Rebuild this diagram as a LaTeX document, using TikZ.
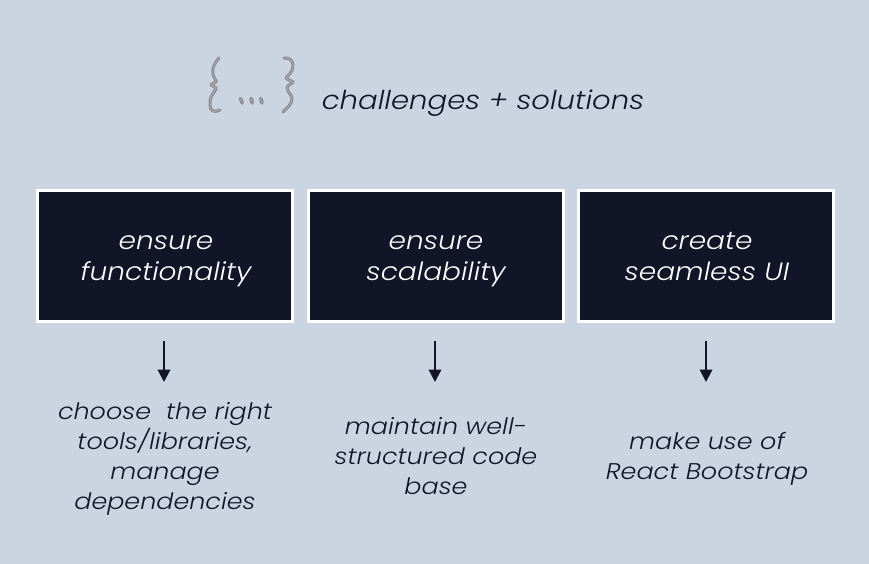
\documentclass[tikz,border=0pt]{standalone}
\usepackage{fontspec}
\setmainfont{Poppins}[UprightFont=* Light,ItalicFont=* Light Italic,FakeStretch=1.12]
\usetikzlibrary{arrows.meta}
\definecolor{bg}{HTML}{CBD5E1}
\definecolor{navy}{HTML}{111527}
\definecolor{gr}{HTML}{85858B}
\definecolor{grl}{HTML}{A8A8AE}
\newcommand{\st}{\vphantom{fy}}
\tikzset{
  x=1pt,y=-1pt,
  box/.style={draw=white,line width=3pt,fill=navy,minimum width=255pt,minimum height=131pt},
  boxtxt/.style={text=white,align=center,inner sep=0pt,font=\fontsize{25}{31}\selectfont\itshape},
  lbl/.style={text=navy,align=center,inner sep=0pt,font=\fontsize{22.7}{30}\selectfont\itshape},
  arr/.style={draw=navy,line width=2.2pt,-{Triangle[length=12.5pt,width=12.5pt]}},
  brace/.style={draw=gr,line width=3pt,line cap=round,line join=round},
  bracein/.style={draw=grl,line width=1.1pt,line cap=round,line join=round},
}
\newcommand{\lbr}{(219,58) .. controls (214,64) and (212,68) .. (213,74) .. controls (214,79) and (217,81) .. (216,82) .. controls (214,84) and (210,84) .. (211,85) .. controls (213,87) and (217,87) .. (216,89) .. controls (213,94) and (209,98) .. (210,105) .. controls (210,111) and (214,113) .. (220,110)}
\newcommand{\rbr}{(284,58) .. controls (290,58) and (293,60) .. (293,66) .. controls (293,72) and (288,75) .. (286,78) .. controls (287,80) and (293,81) .. (293,82) .. controls (292,84) and (287,85) .. (287,88) .. controls (288,93) and (292,95) .. (292,99) .. controls (292,104) and (287,108) .. (283,112)}
\begin{document}
\begin{tikzpicture}
\path[use as bounding box,fill=bg] (0,0) rectangle (869,564);
\draw[brace] \lbr; \draw[bracein] \lbr;
\draw[brace] \rbr; \draw[bracein] \rbr;
\foreach \px/\qx in {240.6/242.1,251/252.2,260.8/262}{
  \draw[gr,line width=3.6pt,line cap=round] (\px,98.5) -- (\qx,103);
  \draw[grl,line width=1.2pt,line cap=round] (\px,98.5) -- (\qx,103);
}
\node[text=navy,inner sep=0pt,font=\fontsize{26}{30}\selectfont\itshape] (title) at (483,103) {\st challenges + solutions};
\node[box,boxtxt] (b1) at (165,255.5) {};
\node[box,boxtxt] (b2) at (436,255.5) {};
\node[box,boxtxt] (b3) at (706,255.5) {};
\node[boxtxt] (t1) at (166,258.5) {\st ensure\\\st functionality};
\node[boxtxt] (t2) at (436,258.5) {\st ensure\\\st scalability};
\node[boxtxt] (t3) at (707,258.5) {\st create\\\st seamless UI};
\coordinate (a1s) at (164,341); \coordinate (a1e) at (164,382);
\coordinate (a2s) at (435,341); \coordinate (a2e) at (435,382);
\coordinate (a3s) at (706,341); \coordinate (a3e) at (706,382);
\draw[arr] (a1s) -- (a1e);
\draw[arr] (a2s) -- (a2e);
\draw[arr] (a3s) -- (a3e);
\node[lbl] (l1) at (165,459) {\st choose~ the right\\\st tools/libraries,\\\st manage\\\st dependencies};
\node[lbl] (l2) at (436,459) {\st maintain well-\\\st structured code\\\st base};
\node[lbl] (l3) at (707,459) {\st make use of\\\st React Bootstrap};
\end{tikzpicture}
\end{document}
